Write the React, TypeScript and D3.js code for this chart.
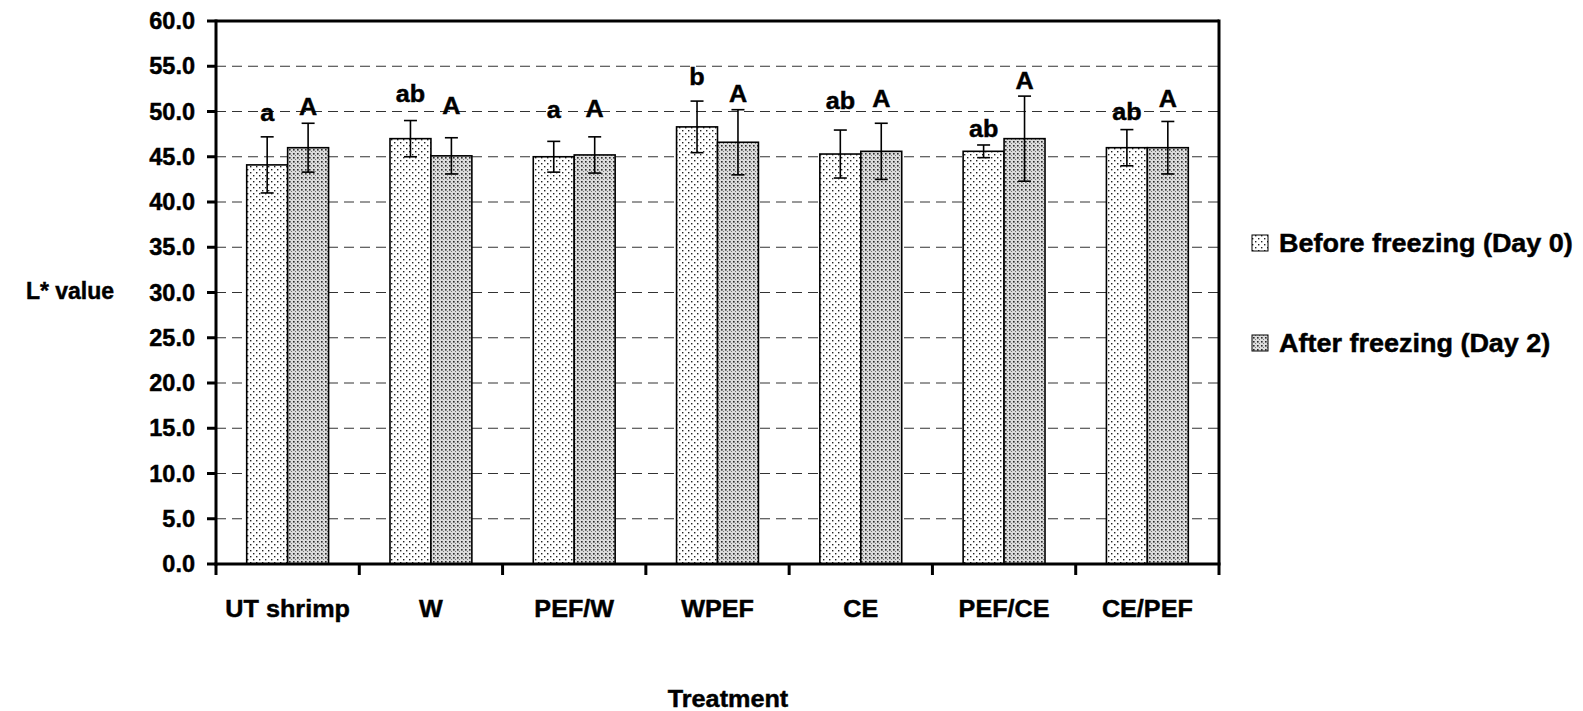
import React from 'react';
import * as d3 from 'd3';

const categories = ['UT shrimp', 'W', 'PEF/W', 'WPEF', 'CE', 'PEF/CE', 'CE/PEF'];
const seriesNames = ['Before freezing (Day 0)', 'After freezing (Day 2)'];

const beforeMean = [44.1, 47.0, 45.0, 48.3, 45.3, 45.6, 46.0];
const beforeSd = [3.1, 2.0, 1.7, 2.85, 2.65, 0.7, 2.0];
const afterMean = [46.0, 45.1, 45.2, 46.6, 45.6, 47.0, 46.0];
const afterSd = [2.7, 2.0, 2.0, 3.6, 3.1, 4.7, 2.9];

const beforeLetters = ['a', 'ab', 'a', 'b', 'ab', 'ab', 'ab'];
const afterLetters = ['A', 'A', 'A', 'A', 'A', 'A', 'A'];
// height (in L* units) of each letter's baseline
const beforeLetterAt = [49.0, 51.1, 49.3, 52.9, 50.3, 47.2, 49.1];
const afterLetterAt = [49.6, 49.7, 49.4, 51.1, 50.5, 52.5, 50.5];

const yTicks = d3.range(0, 60.01, 5);

const W = 1583;
const H = 711;
const left = 216, right = 1219, top = 21, bottom = 564;
const FONT = '"Liberation Sans", Arial, sans-serif';

const label = (x: number, yy: number, txt: string, size: number, anchor: string, sx = 1, key?: string) => (
  <text key={key} transform={`translate(${x},${yy}) scale(${sx},1)`} fontSize={size} fontWeight="bold"
    fontFamily={FONT} textAnchor={anchor} fill="#000" stroke="#000" strokeWidth={0.45}>{txt}</text>
);

const App: React.FC = () => {
  const x0 = d3.scaleBand().domain(categories).range([left, right]).padding(0);
  const x1 = d3.scaleBand().domain(seriesNames).range([0, x0.bandwidth()]).paddingInner(0).paddingOuter(0.75);
  const y = d3.scaleLinear().domain([0, 60]).range([bottom, top]);

  const series = [
    { name: seriesNames[0], mean: beforeMean, sd: beforeSd, letters: beforeLetters, at: beforeLetterAt, fill: 'url(#patBefore)' },
    { name: seriesNames[1], mean: afterMean, sd: afterSd, letters: afterLetters, at: afterLetterAt, fill: 'url(#patAfter)' },
  ];

  return (
    <svg width={W} height={H} style={{ position: 'absolute', left: 0, top: 0, background: '#fff' }}>
      <defs>
        <pattern id="patBefore" width="6" height="6" patternUnits="userSpaceOnUse">
          <rect width="6" height="6" fill="#fff" />
          <rect x="1" y="1" width="1.4" height="1.4" fill="#222" />
          <rect x="4" y="4" width="1.4" height="1.4" fill="#222" />
        </pattern>
        <pattern id="patAfter" width="4" height="4" patternUnits="userSpaceOnUse">
          <rect width="4" height="4" fill="#dcdcdc" />
          <rect x="1" y="1" width="1.6" height="1.6" fill="#2a2a2a" />
          <rect x="3" y="3" width="1" height="1" fill="#777" />
        </pattern>
      </defs>

      {/* grid */}
      {yTicks.filter(t => t > 0 && t < 60).map(t => (
        <line key={'g' + t} x1={left} x2={right} y1={y(t)} y2={y(t)} stroke="#333" strokeWidth={1} strokeDasharray="10,6" />
      ))}

      {/* bars + error bars */}
      {series.map((s, si) => categories.map((c, i) => {
        const bx = x0(c)! + x1(s.name)!;
        const bw = x1.bandwidth();
        const cx = bx + bw / 2;
        const hi = y(s.mean[i] + s.sd[i]);
        const lo = y(s.mean[i] - s.sd[i]);
        return (
          <g key={si + c}>
            <rect x={bx} y={y(s.mean[i])} width={bw} height={y(0) - y(s.mean[i])} fill={s.fill} stroke="#000" strokeWidth={1.6} />
            <line x1={cx} x2={cx} y1={hi} y2={lo} stroke="#000" strokeWidth={1.6} />
            <line x1={cx - 6.5} x2={cx + 6.5} y1={hi} y2={hi} stroke="#000" strokeWidth={1.6} />
            <line x1={cx - 6.5} x2={cx + 6.5} y1={lo} y2={lo} stroke="#000" strokeWidth={1.6} />
            {label(cx, y(s.at[i]), s.letters[i], 24, 'middle', 1.05)}
          </g>
        );
      }))}

      {/* frame */}
      <line x1={left} x2={right} y1={top} y2={top} stroke="#000" strokeWidth={3} />
      <line x1={right} x2={right} y1={top - 1.5} y2={bottom} stroke="#000" strokeWidth={3} />
      <line x1={left} x2={left} y1={top - 1.5} y2={bottom + 1.5} stroke="#000" strokeWidth={3} />
      <line x1={left - 1.5} x2={right + 1.5} y1={bottom} y2={bottom} stroke="#000" strokeWidth={3} />

      {/* y ticks */}
      {yTicks.map(t => (
        <g key={'t' + t}>
          <line x1={left - 9} x2={left} y1={y(t)} y2={y(t)} stroke="#000" strokeWidth={3} />
          {label(left - 21, y(t) + 8, d3.format('.1f')(t), 23.5, 'end', 1.0)}
        </g>
      ))}

      {/* x ticks */}
      {categories.map(c => (
        <line key={'xt' + c} x1={x0(c)!} x2={x0(c)!} y1={bottom} y2={bottom + 11} stroke="#000" strokeWidth={3} />
      ))}
      <line x1={right} x2={right} y1={bottom} y2={bottom + 11} stroke="#000" strokeWidth={3} />
      {categories.map(c => label(x0(c)! + x0.bandwidth() / 2, 617, c, 24, 'middle', 1.05, 'xl' + c))}

      {/* axis titles */}
      {label(70, 299, 'L* value', 23, 'middle', 1.0)}
      {label(728, 707, 'Treatment', 24, 'middle', 1.05)}

      {/* legend */}
      {series.map((s, i) => {
        const cy = 243 + i * 100;
        return (
          <g key={'lg' + i}>
            <rect x={1252} y={cy - 8} width={16} height={16} fill={s.fill} stroke="#000" strokeWidth={1} />
            {label(1279, cy + 8.5, s.name, 25, 'start', 1.08)}
          </g>
        );
      })}
    </svg>
  );
};

export default App;
